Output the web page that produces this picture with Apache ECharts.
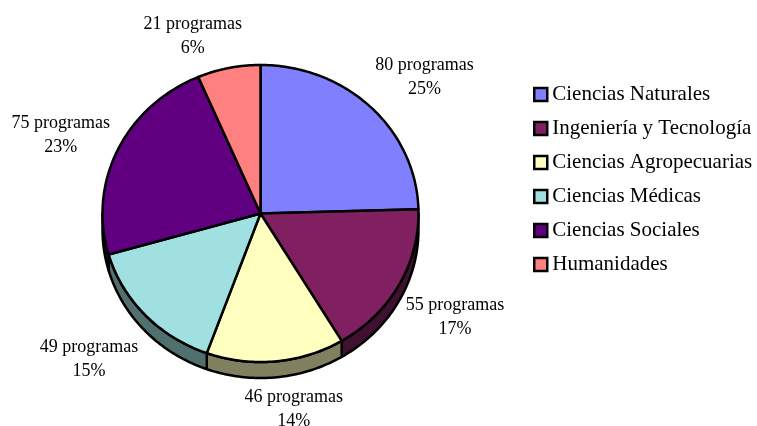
<!DOCTYPE html>
<html>
<head>
<meta charset="utf-8">
<style>html,body{margin:0;padding:0;background:#fff}#c{width:757px;height:426px}</style>
<script src="https://cdn.jsdelivr.net/npm/echarts@6/dist/echarts.min.js"></script>
</head>
<body>
<div id="c"></div>
<script>
const categories = ['Ciencias Naturales','Ingeniería y Tecnología','Ciencias Agropecuarias','Ciencias Médicas','Ciencias Sociales','Humanidades'];
const programCounts = [80,55,46,49,75,21];
const percentLabels = ['25%','17%','14%','15%','23%','6%'];
const topColors = ['#8080FF','#802060','#FFFFC0','#A0E0E0','#600080','#FF8080'];
const sideColors = ['#404080','#401030','#808060','#507070','#300040','#804040'];
const labelOffsets = [[54,-30],[56,32],[18,48],[-56,44],[-57,-15],[-36,-32]];

const FONT = '"Liberation Serif","Times New Roman",serif';
const CX = 260.5, CY = 213.5, RX = 158, RY = 148.5, DEPTH = 16;
const total = programCounts.reduce((a,b)=>a+b,0);
const rim = (deg, dy=0) => {
  const t = deg*Math.PI/180;
  return [CX + RX*Math.sin(t), CY - RY*Math.cos(t) + dy];
};
const arc = (from, to, dy=0) => {
  const pts = [];
  const n = Math.max(2, Math.ceil(Math.abs(to-from)));
  for (let i=0;i<=n;i++) pts.push(rim(from+(to-from)*i/n, dy));
  return pts;
};
const stroke = {stroke:'#000', lineWidth:2.5, lineJoin:'round'};

function makeRender(idx){
  return function(params, api){
    const value = api.value(0);
    const before = programCounts.slice(0,idx).reduce((a,b)=>a+b,0);
    const a0 = before/total*360, a1 = (before+value)/total*360;
    const children = [];
    const lo = Math.max(a0,90), hi = Math.min(a1,270);
    if (hi > lo) {
      children.push({type:'polygon', z2:1,
        shape:{points: arc(lo,hi).concat(arc(hi,lo,DEPTH))},
        style:Object.assign({fill:sideColors[idx]},stroke)});
    }
    children.push({type:'polygon', z2:2,
      shape:{points:[[CX,CY]].concat(arc(a0,a1))},
      style:Object.assign({fill:topColors[idx]},stroke)});
    const mid = rim((a0+a1)/2);
    const off = labelOffsets[idx];
    children.push({type:'text', z2:3, x:mid[0]+off[0], y:mid[1]+off[1],
      style:{text:value+' programas\n'+percentLabels[idx], fill:'#000',
        font:'18px '+FONT, lineHeight:24, align:'center', verticalAlign:'middle'}});
    return {type:'group', children};
  };
}

const chart = echarts.init(document.getElementById('c'), null, {renderer:'canvas'});
chart.setOption({
  animation:false,
  backgroundColor:'#fff',
  legend:{
    orient:'vertical', left:533, top:84, padding:0,
    itemWidth:13, itemHeight:13, itemGap:13, icon:'rect',
    itemStyle:{borderColor:'#000',borderWidth:2.5},
    textStyle:{fontFamily:FONT,fontSize:21,color:'#000'},
    selectedMode:false,
    data:categories
  },
  series:categories.map((name,i)=>({
    type:'custom', name, coordinateSystem:'none',
    itemStyle:{color:topColors[i]},
    silent:true,
    data:[[programCounts[i]]],
    renderItem:makeRender(i)
  }))
});
</script>
</body>
</html>
